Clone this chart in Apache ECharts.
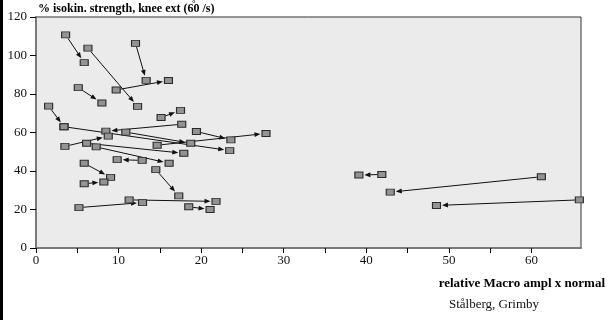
<!DOCTYPE html>
<html>
<head>
<meta charset="utf-8">
<script src="https://cdn.jsdelivr.net/npm/echarts@6/dist/echarts.min.js"></script>
<style>
  html, body { margin: 0; padding: 0; background: #fff; }
  #chart { width: 609px; height: 320px; }
</style>
</head>
<body>
<div id="chart"></div>
<script>
// Paired measurements: each arrow runs from the first to the second examination
const fromX = [3.59, 6.29, 12.05, 9.71, 5.12, 1.53, 3.39, 17.65, 10.88, 19.43, 14.67, 3.5, 6.13, 7.29, 12.86, 5.84, 5.84, 14.51, 11.28, 5.2, 18.5, 15.15, 41.88, 61.2, 65.8];
const fromY = [110.7, 103.8, 106.3, 82.1, 83.3, 73.7, 63.0, 64.3, 60.2, 60.5, 53.4, 52.8, 54.4, 52.5, 45.5, 44.0, 33.4, 40.7, 25.0, 21.0, 21.4, 67.8, 38.2, 37.0, 25.0];
const toX = [5.84, 12.3, 13.34, 16.04, 7.98, 3.39, 23.46, 8.46, 18.74, 23.6, 27.85, 8.75, 17.9, 16.12, 9.83, 9.03, 8.22, 17.29, 21.8, 12.9, 21.08, 17.5, 39.1, 42.9, 48.5];
const toY = [96.3, 73.6, 87.1, 87.0, 75.3, 63.0, 50.6, 60.7, 54.4, 56.2, 59.5, 58.1, 49.2, 44.0, 45.9, 36.7, 34.3, 27.1, 24.2, 23.6, 20.0, 71.5, 37.9, 29.0, 22.1];

const xTickValues = [0, 5, 10, 15, 20, 25, 30, 35, 40, 45, 50, 55, 60];
const xLabelValues = [0, 10, 20, 30, 40, 50, 60];
const yTickValues = [0, 20, 40, 60, 80, 100, 120];

const serif = 'Liberation Serif';

const arrowData = fromX.map((x, i) => [x, fromY[i], toX[i], toY[i]]);
const pointData = fromX.map((x, i) => [x, fromY[i]]).concat(toX.map((x, i) => [x, toY[i]]));

// Distance from a marker centre to its rectangle edge along direction (ux, uy)
function edgeDist(ux, uy, hw, hh) {
  const ax = Math.abs(ux), ay = Math.abs(uy);
  const tx = ax > 1e-9 ? hw / ax : Infinity;
  const ty = ay > 1e-9 ? hh / ay : Infinity;
  return Math.min(tx, ty);
}

function renderArrow(params, api) {
  const p0 = api.coord([api.value(0), api.value(1)]);
  const p1 = api.coord([api.value(2), api.value(3)]);
  const dx = p1[0] - p0[0], dy = p1[1] - p0[1];
  const len = Math.hypot(dx, dy);
  if (len < 1) return;
  const ux = dx / len, uy = dy / len;
  const hw = 4.5, hh = 3.5;
  const dEnd = edgeDist(ux, uy, hw, hh) + 1;
  const dStart = edgeDist(ux, uy, hw, hh);
  const s = [p0[0] + ux * dStart, p0[1] + uy * dStart];
  const tip = [p1[0] - ux * dEnd, p1[1] - uy * dEnd];
  const al = 6, aw = 2.4;
  const base = [tip[0] - ux * al, tip[1] - uy * al];
  const nx = -uy, ny = ux;
  return {
    type: 'group',
    children: [
      { type: 'line', shape: { x1: s[0], y1: s[1], x2: base[0] + ux * 1, y2: base[1] + uy * 1 },
        style: { stroke: '#111', lineWidth: 1 } },
      { type: 'polygon', shape: { points: [tip, [base[0] + nx * aw, base[1] + ny * aw], [base[0] - nx * aw, base[1] - ny * aw]] },
        style: { fill: '#111' } }
    ]
  };
}

const chart = echarts.init(document.getElementById('chart'), null, { renderer: 'canvas' });
chart.setOption({
  animation: false,
  backgroundColor: '#fff',
  grid: {
    left: 36, right: 28, top: 17, bottom: 72,
    show: true, backgroundColor: '#ebebeb', borderColor: '#333', borderWidth: 1
  },
  xAxis: {
    type: 'value', min: 0, max: 66, interval: 5,
    axisLine: { show: true, onZero: false, lineStyle: { color: '#7a7a7a', width: 2 } },
    axisTick: { show: true, length: 5, customValues: xTickValues, lineStyle: { color: '#000', width: 1 } },
    axisLabel: { customValues: xLabelValues, fontFamily: serif, fontSize: 13, color: '#111', margin: 6 },
    splitLine: { show: false }
  },
  yAxis: {
    type: 'value', min: 0, max: 120, interval: 20,
    axisLine: { show: true, onZero: false, lineStyle: { color: '#7a7a7a', width: 2 } },
    axisTick: { show: true, length: 6, customValues: yTickValues, lineStyle: { color: '#000', width: 1 } },
    axisLabel: { customValues: yTickValues, fontFamily: serif, fontSize: 13, color: '#111', margin: 9 },
    splitLine: { show: false }
  },
  series: [
    {
      type: 'custom',
      renderItem: renderArrow,
      data: arrowData,
      encode: { x: [0, 2], y: [1, 3] },
      z: 2,
      silent: true
    },
    {
      type: 'scatter',
      data: pointData,
      symbol: 'rect',
      symbolSize: [8, 6],
      itemStyle: { color: '#939393', borderColor: '#2a2a2a', borderWidth: 1, opacity: 1 },
      z: 3,
      silent: true
    }
  ],
  graphic: [
    { type: 'rect', left: 0, top: 0, shape: { width: 3, height: 320 }, style: { fill: '#000' } },
    { type: 'text', left: 38, top: 3,
      style: { text: '% isokin. strength, knee ext (60 /s)', font: 'bold 12px "Liberation Serif"', fill: '#000' } },
    { type: 'text', left: 192, top: -1,
      style: { text: '°', font: 'bold 9px "Liberation Serif"', fill: '#000' } },
    { type: 'text', right: 4, top: 277,
      style: { text: 'relative Macro ampl x normal', font: 'bold 13px "Liberation Serif"', fill: '#000' } },
    { type: 'text', left: 449, top: 298,
      style: { text: 'Stålberg, Grimby', font: '13px "Liberation Serif"', fill: '#111' } }
  ]
});
</script>
</body>
</html>
